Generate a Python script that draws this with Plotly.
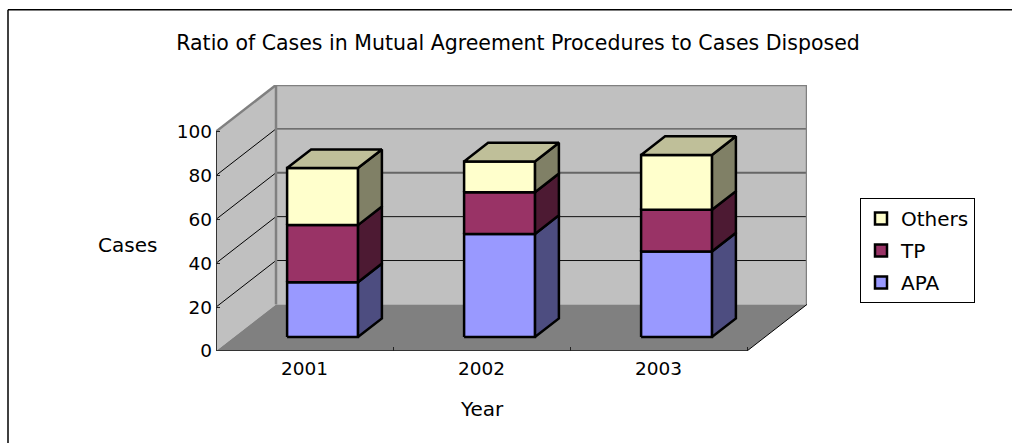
import plotly.graph_objects as go

years = ["2001", "2002", "2003"]
series_names = ["APA", "TP", "Others"]
apa = [25, 47, 39]
tp = [26, 19, 19]
others = [26, 14, 25]
y_ticks = [0, 20, 40, 60, 80, 100]

FONT = "DejaVu Sans"
W, H = 1012, 443
KX = 60 / 177  # depth -> category units
KY = 46.5 / 2.19  # depth -> value units
PL, PR, PT, PB = 216, 807, 131.7 - 46.5, 351
BAR_W = 0.4
D0, D1 = 0.3, 0.7


def proj(c, v, d):
    return c + d * KX, v + d * KY


def poly(pts):
    xs, ys = zip(*[proj(*p) for p in pts])
    return list(xs) + [xs[0]], list(ys) + [ys[0]]


def multi(polys):
    X, Y = [], []
    for p in polys:
        x, y = poly(p)
        X += x + [None]
        Y += y + [None]
    return X, Y


def face(polys, fill, line="black", width=2.5):
    x, y = multi(polys)
    return go.Scatter(x=x, y=y, mode="lines", fill="toself", fillcolor=fill,
                      line=dict(color=line, width=width, simplify=False),
                      cliponaxis=False, showlegend=False, hoverinfo="skip")


def seg(p0, p1, color, width):
    a, b = proj(*p0), proj(*p1)
    return go.Scatter(x=[a[0], b[0]], y=[a[1], b[1]], mode="lines",
                      line=dict(color=color, width=width), cliponaxis=False,
                      showlegend=False, hoverinfo="skip")


fig = go.Figure()
XL, XR = -0.5, 2.5
# walls and floor
fig.add_trace(face([[(XL, 0, 0), (XL, 100, 0), (XL, 100, 1), (XL, 0, 1)]], "#C0C0C0", "#C0C0C0", 0))
fig.add_trace(face([[(XL, 0, 1), (XL, 100, 1), (XR, 100, 1), (XR, 0, 1)]], "#C0C0C0", "#C0C0C0", 0))
fig.add_trace(face([[(XL, 0, 0), (XR, 0, 0), (XR, 0, 1), (XL, 0, 1)]], "#808080", "#808080", 0))
# gridlines
back_grid = {20: ("#111111", 1), 40: ("#111111", 1), 60: ("#666666", 2), 80: ("#555555", 1.2)}
for v in y_ticks[1:-1]:
    c, w = back_grid[v]
    fig.add_trace(seg((XL, v, 0), (XL, v, 1), "#000000", 1))
    fig.add_trace(seg((XL, v, 1), (XR, v, 1), c, w))
fig.add_trace(seg((XL, 100, 1), (XR, 100, 1), "#808080", 2.5))
fig.add_trace(seg((XL, 100, 0), (XL, 100, 1), "#808080", 2.5))
fig.add_trace(seg((XL, 100, 1), (XL, 0, 1), "#808080", 2.5))
fig.add_trace(seg((XR, 100, 1), (XR, 0, 1), "#808080", 2.5))
fig.add_trace(seg((XR, 0, 0), (XR, 0, 1), "#000000", 1))
# front axis lines
fig.add_trace(seg((XL, 0, 0), (XL, 100, 0), "#333333", 2))
fig.add_trace(seg((XL, 0, 0), (XR, 0, 0), "#333333", 2))

# bars
styles = [("#9999FF", "#4D4D80"), ("#993366", "#4D1A33"), ("#FFFFCC", "#808066")]
TOP_COLOR = "#BFBF99"
base = [0, 0, 0]
for vals, (fc, sc) in zip([apa, tp, others], styles):
    fronts, sides = [], []
    for i, v in enumerate(vals):
        l, r = i - BAR_W / 2, i + BAR_W / 2
        b, t = base[i], base[i] + v
        fronts.append([(l, b, D0), (r, b, D0), (r, t, D0), (l, t, D0)])
        sides.append([(r, b, D0), (r, b, D1), (r, t, D1), (r, t, D0)])
    fig.add_trace(face(sides, sc))
    fig.add_trace(face(fronts, fc))
    base = [a + v for a, v in zip(base, vals)]
tops = [[(i - BAR_W / 2, t, D0), (i + BAR_W / 2, t, D0), (i + BAR_W / 2, t, D1), (i - BAR_W / 2, t, D1)]
        for i, t in enumerate(base)]
fig.add_trace(face(tops, TOP_COLOR))

# legend entries
for name, (fc, _) in reversed(list(zip(series_names, styles))):
    fig.add_trace(go.Scatter(x=[None], y=[None], mode="markers", name=name, legendgroup=name,
                             marker=dict(symbol="square", size=12, color=fc,
                                         line=dict(color="black", width=2.5))))
# category labels
fig.add_trace(go.Scatter(x=[0, 1, 2], y=[0, 0, 0], mode="none", xaxis="x2",
                         showlegend=False, hoverinfo="skip"))

pw = PR - PL
ph = PB - PT


def px(x):
    return (x - PL) / pw


def py(y):
    return (PB - y) / ph


X_RANGE = [XL, XR + KX]
Y_RANGE = [0, 100 + KY]
fig.update_layout(
    width=W, height=H, autosize=False,
    margin=dict(l=PL, r=W - PR, t=PT, b=H - PB, pad=0),
    paper_bgcolor="white", plot_bgcolor="rgba(0,0,0,0)",
    font=dict(family=FONT, size=18, color="black"),
    title=dict(text="Ratio of Cases in Mutual Agreement Procedures to Cases Disposed",
               x=518 / W, xanchor="center", y=1 - 43 / H, yanchor="middle",
               font=dict(family=FONT, size=20.5)),
    xaxis=dict(type="linear", range=X_RANGE, tickvals=[-0.5, 0.5, 1.5, 2.5],
               ticktext=["", "", "", ""], ticks="inside", ticklen=4, tickwidth=1,
               tickcolor="#222222", showgrid=False, zeroline=False, showline=False),
    xaxis2=dict(type="linear", range=X_RANGE, overlaying="x", anchor="y",
                tickvals=[0, 1, 2], ticktext=years, ticks="", showgrid=False,
                zeroline=False, showline=False, side="bottom", ticklabelstandoff=4,
                tickfont=dict(family=FONT, size=18.5)),
    yaxis=dict(range=Y_RANGE, tickvals=y_ticks, ticks="inside", ticklen=4, tickwidth=1,
               tickcolor="#222222", showgrid=False, zeroline=False, showline=False,
               ticklabelstandoff=3, tickfont=dict(family=FONT, size=18.5)),
    legend=dict(x=px(860), xanchor="left", y=py(198), yanchor="top",
                bgcolor="white", bordercolor="black", borderwidth=1,
                font=dict(family=FONT, size=20), tracegroupgap=3),
    annotations=[dict(text="Cases", x=px(127), y=py(245), xref="paper", yref="paper",
                      showarrow=False, xanchor="center", yanchor="middle",
                      font=dict(family=FONT, size=20)),
                 dict(text="Year", x=px(482), y=py(409), xref="paper", yref="paper",
                      showarrow=False, xanchor="center", yanchor="middle",
                      font=dict(family=FONT, size=20))],
    shapes=[dict(type="line", xref="paper", yref="paper", x0=px(8), x1=px(8), y0=py(443), y1=py(10),
                 line=dict(color="black", width=1.5)),
            dict(type="line", xref="paper", yref="paper", x0=px(8), x1=px(1012), y0=py(10), y1=py(10),
                 line=dict(color="black", width=1.5))],
)
fig.write_html("out.html", post_script="document.body.style.margin='0';",
               config={"displayModeBar": False})
